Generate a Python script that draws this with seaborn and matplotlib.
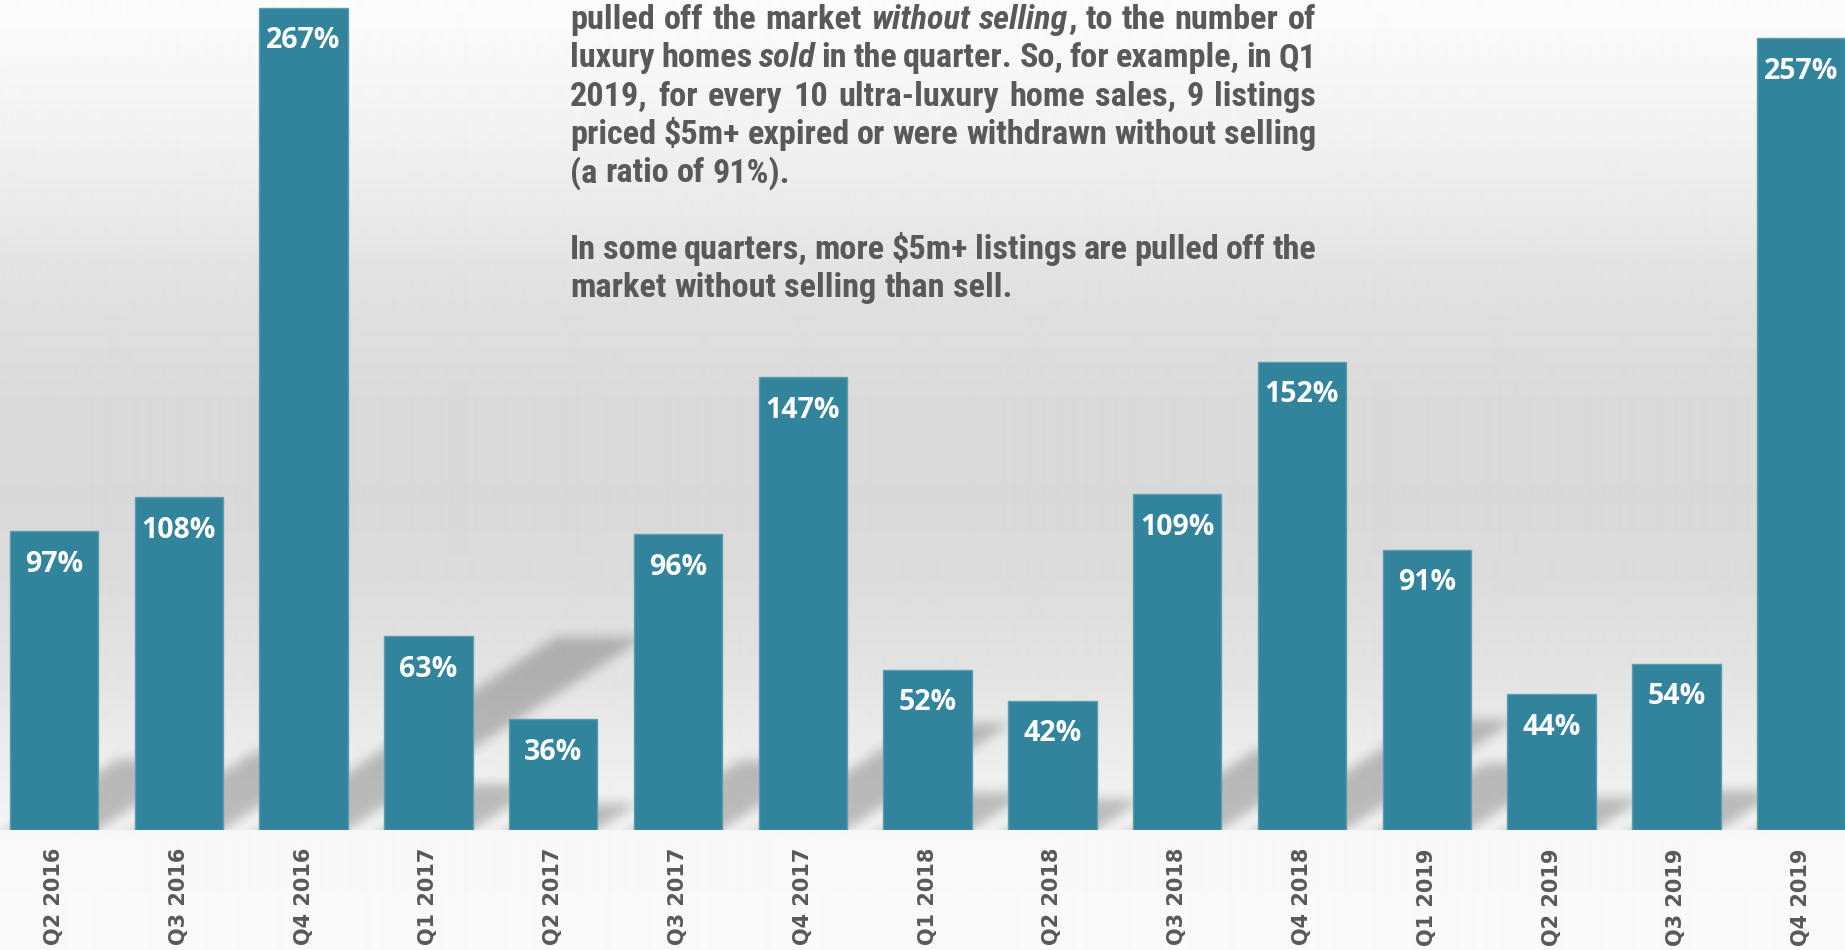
import numpy as np
import matplotlib
matplotlib.use("Agg")
import matplotlib.pyplot as plt
from matplotlib import font_manager
import seaborn as sns

# ratio of $5m+ listings pulled off the market to $5m+ homes sold, per quarter
quarters = ["Q2 2016", "Q3 2016", "Q4 2016", "Q1 2017", "Q2 2017", "Q3 2017", "Q4 2017",
            "Q1 2018", "Q2 2018", "Q3 2018", "Q4 2018", "Q1 2019", "Q2 2019", "Q3 2019", "Q4 2019"]
ratios = [97, 108, 267, 63, 36, 96, 147, 52, 42, 109, 152, 91, 44, 54, 257]

# note text, _word_ = italic
note_lines = [
    "pulled off the market _without_ _selling_, to the number of",
    "luxury homes _sold_ in the quarter. So, for example, in Q1",
    "2019, for every 10 ultra-luxury home sales, 9 listings",
    "priced $5m+ expired or were withdrawn without selling",
    "(a ratio of 91%).",
    "",
    "In some quarters, more $5m+ listings are pulled off the",
    "market without selling than sell.",
]
justified = [True, True, True, True, False, False, True, False]

BAR = "#31849b"
EDGE = "#5a9db0"
TEXT = "#595959"
W, H = 1845, 950


def pick_font(names):
    for n in names:
        try:
            font_manager.findfont(font_manager.FontProperties(family=n, weight="bold"),
                                  fallback_to_default=False)
            return n
        except ValueError:
            pass
    return "DejaVu Sans"


def box_blur(a, r, axis):
    pad = [(0, 0), (0, 0)]
    pad[axis] = (r + 1, r)
    p = np.pad(a, pad, mode="edge")
    c = np.cumsum(p, axis=axis)
    n = a.shape[axis]
    if axis == 0:
        return (c[2 * r + 1:2 * r + 1 + n] - c[:n]) / (2 * r + 1)
    return (c[:, 2 * r + 1:2 * r + 1 + n] - c[:, :n]) / (2 * r + 1)


sns.set_style("white")
note_font = pick_font(["Liberation Sans Narrow", "Roboto Condensed", "Open Sans Condensed",
                       "Open Sans", "Lato"])
label_font = pick_font(["Open Sans", "Lato"])

fig = plt.figure(figsize=(W / 100, H / 100), dpi=100)

# background gradient
stops_y = [0, 100, 200, 300, 400, 500, 580, 680, 780, 828, 832, 950]
stops_v = [252, 245, 235, 224, 218, 217, 220, 228, 239, 243, 248, 250]
col = np.interp(np.arange(H), stops_y, stops_v) / 255
bg_ax = fig.add_axes([0, 0, 1, 1])
bg_ax.set_zorder(-1)
bg_ax.imshow(np.repeat(col[:, None], 2, axis=1), cmap="gray", vmin=0, vmax=1,
             aspect="auto", interpolation="bilinear", extent=[0, 1, 0, 1])
bg_ax.axis("off")

# chart
ax = fig.add_axes([0, 120 / H, 1, 830 / H])
ax.patch.set_visible(False)
bar_w = 0.709
sns.barplot(x=quarters, y=ratios, color=BAR, saturation=1, width=bar_w,
            edgecolor=EDGE, linewidth=1, ax=ax, zorder=3)

x0, x1 = -0.4327, 14.351
y_top = 269.5

# perspective shadows behind the bars
xs = np.linspace(x0, x1, W)
ys = np.linspace(y_top, -4, 845)
X, Y = np.meshgrid(xs, ys)
mask = np.zeros_like(X)
shift = 0.038 * Y
for i, v in enumerate(ratios):
    inside = (Y <= 0.234 * v) & (Y >= -4) & (X >= i - bar_w / 2 + shift) & (X <= i + bar_w / 2 + shift)
    mask = np.maximum(mask, inside.astype(float))
for _ in range(3):
    mask = box_blur(mask, 5, 0)
    mask = box_blur(mask, 5, 1)
shadow = np.zeros(mask.shape + (4,))
shadow[..., 3] = mask * 0.23
ax.imshow(shadow, extent=[x0, x1, -4, y_top], aspect="auto", zorder=1,
          interpolation="bilinear")

for i, v in enumerate(ratios):
    ax.annotate(f"{v}%", (i, v), xytext=(0, -23.8), textcoords="offset points",
                ha="center", va="center", color="white", fontsize=20.5,
                fontweight="bold", family=label_font, zorder=5)

ax.set_xlim(x0, x1)
ax.set_ylim(0, y_top)
ax.set_xticks(range(len(quarters)))
ax.set_xticklabels(quarters, rotation=90, fontsize=15, fontweight="bold",
                   color=TEXT, family="DejaVu Sans")
ax.tick_params(axis="x", length=0, pad=13)
ax.set_yticks([])
ax.set_xlabel("")
ax.set_ylabel("")
for s in ax.spines.values():
    s.set_visible(False)

# note paragraph, justified between x_left and x_right
renderer = fig.canvas.get_renderer()
x_left, x_right = 570, 1316


def make_text(s, italic, size):
    return fig.text(0, 0, s, fontsize=size, fontweight="bold",
                    style="italic" if italic else "normal", family=note_font,
                    color=TEXT, ha="left", va="baseline", parse_math=False)


def text_w(s, italic, size):
    t = make_text(s, italic, size)
    w = t.get_window_extent(renderer).width
    t.remove()
    return w


base = 20
size = base * (x_right - x_left) / text_w(note_lines[3], False, base)
space_w = text_w("x x", False, size) - text_w("xx", False, size)

for k, line in enumerate(note_lines):
    if not line:
        continue
    y_px = 29 + 38.3 * k
    words = []
    for w in line.split(" "):
        parts = w.split("_")
        words.append([(p, j % 2 == 1) for j, p in enumerate(parts) if p])
    widths = [sum(text_w(s, it, size) for s, it in w) for w in words]
    if justified[k] and len(words) > 1:
        gap = (x_right - x_left - sum(widths)) / (len(words) - 1)
    else:
        gap = space_w
    x = x_left
    for w, ww in zip(words, widths):
        xx = x
        for s, it in w:
            t = make_text(s, it, size)
            t.set_position((xx / W, 1 - y_px / H))
            xx += t.get_window_extent(renderer).width
        x += ww + gap

fig.savefig("out.png", dpi=100)
